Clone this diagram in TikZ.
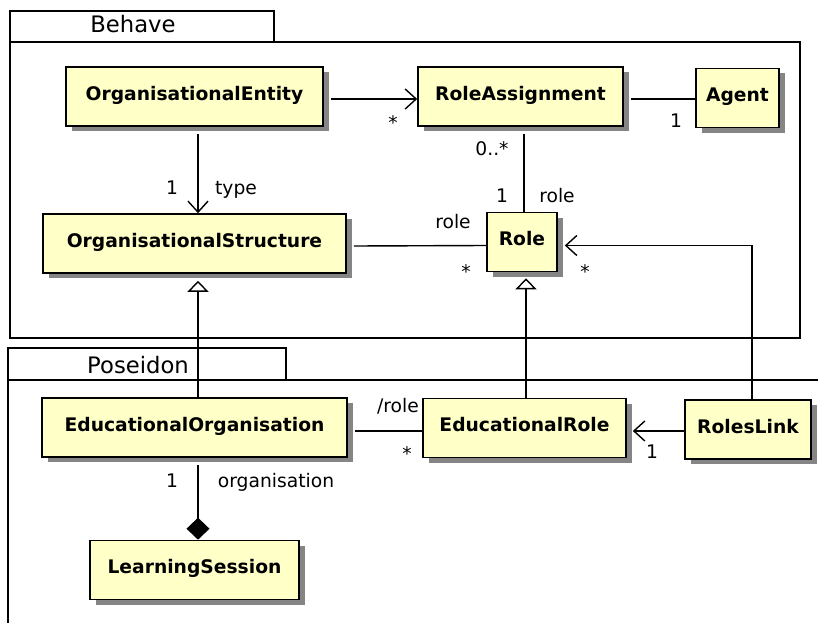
\documentclass[tikz,border=0pt]{standalone}
\usepackage{fontspec}
\setmainfont{DejaVu Sans}
\usetikzlibrary{arrows.meta,shadows}
\definecolor{classfill}{HTML}{FFFFC8}
\definecolor{shadowgray}{HTML}{858585}

\begin{document}
\begin{tikzpicture}[x=1pt,y=-1pt,
  class/.style={draw,line width=1.6pt,fill=classfill,inner sep=0pt,
    font=\fontsize{18.7}{20}\selectfont\bfseries,minimum height=59pt,
    text height=14pt,text depth=6.8pt,
    drop shadow={shadow xshift=6pt,shadow yshift=-5pt,fill=shadowgray,opacity=1}},
  lbl/.style={font=\fontsize{18.7}{20}\selectfont,inner sep=0pt,anchor=base},
  pkg/.style={font=\fontsize{22.7}{24}\selectfont,inner sep=0pt,anchor=base},
  conn/.style={line width=1.4pt},
  assoc/.style={conn,-{Straight Barb[length=11pt,width=20pt,line width=1.4pt]}},
  gen/.style={conn,-{Triangle[open,length=11pt,width=21pt,line width=1.4pt]}},
  comp/.style={conn,{Diamond[length=22pt,width=23pt]}-}]
\useasboundingbox (0,0) rectangle (818,623);

% Packages
\draw[line width=1.4pt] (10,11) rectangle (274,42);
\draw[line width=1.4pt] (10,42) rectangle (800,338);
\node[pkg] (behave) at (133,33) {Behave};
\draw[line width=1.4pt] (8,348) rectangle (286,380);
\draw[line width=1.4pt] (818,380) -- (8,380) -- (8,623);
\node[pkg] (poseidon) at (138,373) {Poseidon};

% Classes
\node[class,minimum width=257pt] (oe) at (194.5,96.5) {OrganisationalEntity};
\node[class,minimum width=205pt] (ra) at (520.5,96.5) {RoleAssignment};
\node[class,minimum width=83pt] (ag) at (737.5,98) {Agent};
\node[class,minimum width=303pt] (os) at (194.5,243.5) {OrganisationalStructure};
\node[class,minimum width=70pt] (ro) at (522,242) {Role};
\node[class,minimum width=305pt] (eo) at (194.5,427.5) {EducationalOrganisation};
\node[class,minimum width=209pt] (ls) at (194.5,570) {LearningSession};
\node[class,minimum width=203pt] (er) at (524.5,428) {EducationalRole};
\node[class,minimum width=126pt] (rl) at (748,429.5) {RolesLink};

% Associations
\draw[assoc] ([xshift=7pt,yshift=-2.5pt]oe.east) -- ([yshift=-2.5pt]ra.west);
\node[lbl] (oera) at (393,129) {*};
\draw[conn] ([xshift=7pt,yshift=-2.5pt]ra.east) -- ([yshift=-1pt]ag.west);
\node[lbl] (raag) at (676,128) {1};
\draw[conn] ([xshift=3.5pt,yshift=-7pt]ra.south) -- ([xshift=2pt]ro.north);
\node[lbl] (rarom) at (492,155) {0..*};
\node[lbl] (rarop) at (502,202) {1};
\node[lbl] (raron) at (557,202) {role};
\draw[assoc] ([xshift=3.5pt,yshift=-7pt]oe.south) -- ([xshift=3.5pt]os.north);
\node[lbl] (oeosm) at (172,194) {1};
\node[lbl] (oeosn) at (236,194) {type};
\draw[conn] ([xshift=7pt,yshift=-2.5pt]os.east) -- ([yshift=-3.5pt]ro.west);
\node[lbl] (osron) at (453,228) {role};
\node[lbl] (osrom) at (466,278) {*};
\draw[assoc] ([xshift=4pt]rl.north) |- ([xshift=7pt,yshift=-3.5pt]ro.east);
\node[lbl] (rlrom) at (585,278) {*};

% Generalisations
\draw[gen] ([xshift=3.5pt]eo.north) -- ([xshift=3.5pt,yshift=-7pt]os.south);
\draw[gen] ([xshift=1.5pt]er.north) -- ([xshift=4pt,yshift=-6pt]ro.south);

% Poseidon links
\draw[conn] ([xshift=7pt,yshift=-3.5pt]eo.east) -- ([yshift=-3pt]er.west);
\node[lbl] (eoern) at (398,412) {/role};
\node[lbl] (eoerm) at (407,460) {*};
\draw[assoc] ([yshift=-1.5pt]rl.west) -- ([xshift=6pt,yshift=-3pt]er.east);
\node[lbl] (rlerm) at (652,458) {1};
\draw[comp] ([xshift=3.5pt]ls.north) -- ([xshift=3.5pt,yshift=-7pt]eo.south);
\node[lbl] (lseom) at (172,487) {1};
\node[lbl] (lseon) at (276,487) {organisation};
\end{tikzpicture}
\end{document}
